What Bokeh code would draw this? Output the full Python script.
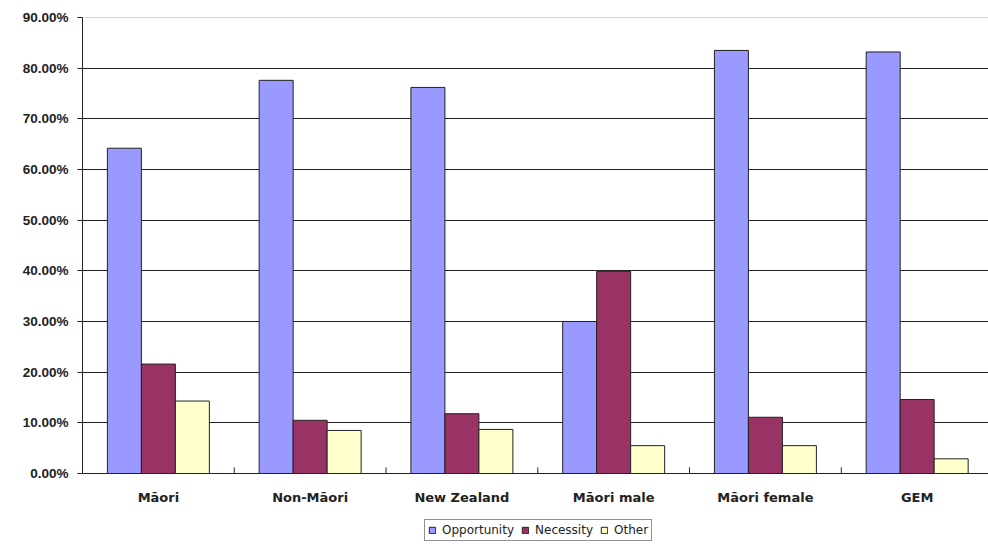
from bokeh.plotting import figure
from bokeh.models import (ColumnDataSource, Range1d, FixedTicker, NumeralTickFormatter,
                          Legend, LegendItem, Span)
from bokeh.core.properties import value
from bokeh.transform import dodge
from bokeh.embed import file_html
from bokeh.resources import INLINE

categories = ["Māori", "Non-Māori", "New Zealand", "Māori male", "Māori female", "GEM"]
opportunity = [0.642, 0.776, 0.762, 0.300, 0.835, 0.832]
necessity = [0.216, 0.105, 0.118, 0.399, 0.111, 0.146]
other = [0.143, 0.085, 0.087, 0.055, 0.055, 0.029]

series_names = ["Opportunity", "Necessity", "Other"]
series_colors = ["#9999FF", "#993366", "#FFFFCC"]

idx = list(range(len(categories)))
src = ColumnDataSource(dict(x=idx, cat=categories, zero=[0] * len(idx),
                            opportunity=opportunity, necessity=necessity, other=other))
bounds = [i + 0.5 for i in range(len(categories) - 1)]
bsrc = ColumnDataSource(dict(x=bounds, y0=[0] * len(bounds), y1=[0.012] * len(bounds)))

p = figure(frame_width=906, frame_height=527, output_backend="svg", toolbar_location=None,
           x_range=Range1d(-0.5, 5.47), y_range=Range1d(-0.1401, 0.9),
           min_border_left=82, min_border_right=0, min_border_top=17, min_border_bottom=0)
p.outline_line_color = None
p.background_fill_color = "white"

bw = 0.224
renderers = []
for col, off, color in zip(["opportunity", "necessity", "other"], [-bw, 0, bw], series_colors):
    r = p.vbar(x=dodge("x", off), top=col, bottom="zero", width=bw, source=src,
               fill_color=color, line_color="#222222", line_width=1)
    renderers.append(r)

# y axis
p.yaxis.ticker = FixedTicker(ticks=[i / 10 for i in range(10)])
p.yaxis.bounds = (0, 0.9)
p.yaxis.formatter = NumeralTickFormatter(format="0.00%")
p.yaxis.major_label_text_font = "Liberation Sans"
p.yaxis.major_label_text_font_style = "bold"
p.yaxis.major_label_text_font_size = "13.5px"
p.yaxis.major_label_text_color = "#222222"
p.yaxis.major_tick_out = 5
p.yaxis.major_tick_in = 0
p.yaxis.minor_tick_out = 0
p.yaxis.minor_tick_in = 0
p.yaxis.axis_line_color = "#222222"
p.yaxis.major_tick_line_color = "#222222"
p.yaxis.major_label_standoff = 9

p.ygrid.ticker = FixedTicker(ticks=[i / 10 for i in range(0, 9)])
p.ygrid.grid_line_color = "#222222"
p.ygrid.grid_line_width = 1
p.ygrid.grid_line_alpha = 1
p.xgrid.grid_line_color = None
p.add_layout(Span(location=0.9, dimension="width", line_color="#aaaaaa", line_width=1))

# category axis drawn inside the frame
p.xaxis.visible = False
p.segment(x0="x", y0="y0", x1="x", y1="y1", source=bsrc, line_color="#222222", line_width=1)
p.text(x="x", y="zero", text="cat", source=src, y_offset=24,
       text_font=value("DejaVu Sans"), text_font_style="bold", text_font_size="13px",
       text_color="#222222", text_align="center", text_baseline="middle")

legend = Legend(items=[LegendItem(label=n, renderers=[r]) for n, r in zip(series_names, renderers)],
                orientation="horizontal", location=(342, 3),
                label_text_font="DejaVu Sans", label_text_font_size="12px",
                label_text_color="#222222",
                glyph_width=8, glyph_height=8, label_standoff=6, spacing=7,
                padding=3, margin=0, border_line_color="#222222", border_line_width=1,
                label_height=14)
p.add_layout(legend, "center")

open("out.html", "w").write(file_html(p, INLINE))
